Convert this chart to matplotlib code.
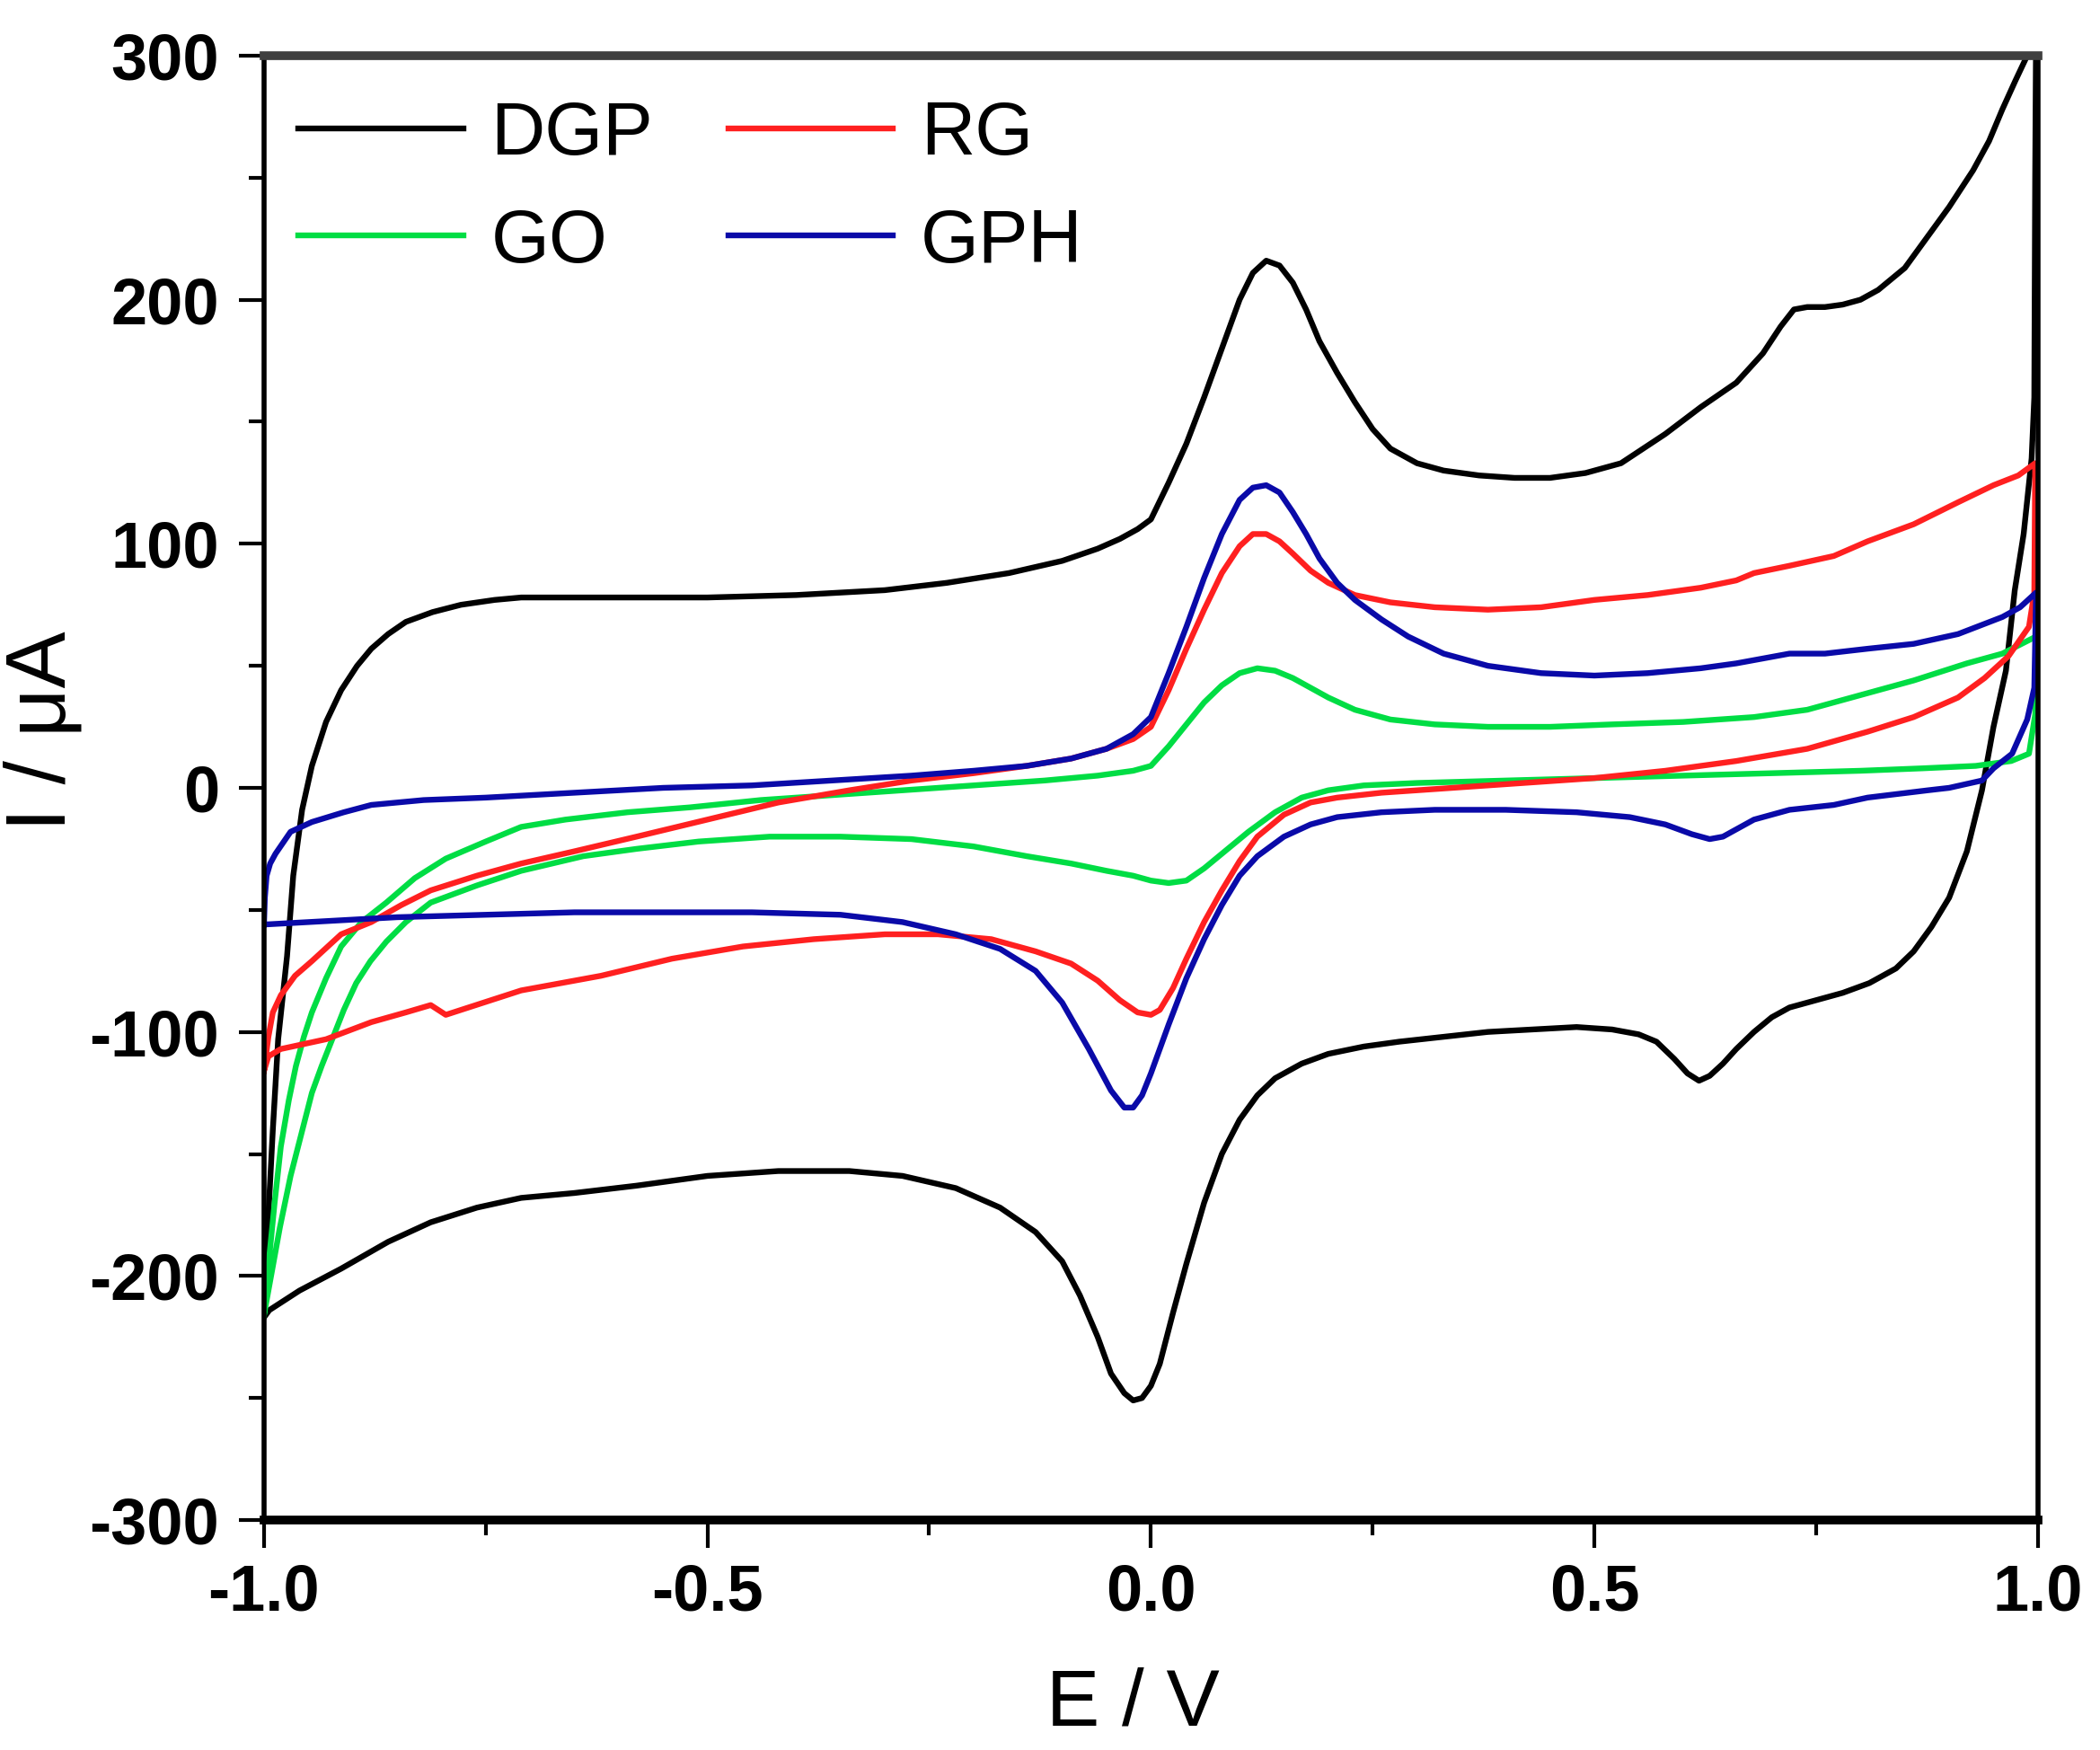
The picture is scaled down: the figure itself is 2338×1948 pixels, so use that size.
import matplotlib
matplotlib.use('Agg')
import matplotlib.pyplot as plt
from matplotlib.ticker import MultipleLocator

# ---- data (cyclic voltammograms, E in V, I in uA), forward scan then reverse scan ----
E_dgp = [-1.0, -0.995, -0.99, -0.984, -0.974, -0.967, -0.957, -0.946, -0.93, -0.913, -0.895, -0.879, -0.86,
         -0.84, -0.81, -0.778, -0.74, -0.71, -0.6, -0.5, -0.4, -0.3, -0.23, -0.16, -0.1, -0.06, -0.035, -0.015,
         0.0, 0.02, 0.04, 0.06, 0.08, 0.1, 0.115, 0.13, 0.145, 0.16, 0.175, 0.19, 0.21, 0.23, 0.25, 0.27, 0.3,
         0.33, 0.37, 0.41, 0.45, 0.49, 0.53, 0.58, 0.62, 0.66, 0.69, 0.71, 0.725, 0.74, 0.76, 0.78, 0.8, 0.82,
         0.85, 0.876, 0.9, 0.927, 0.945, 0.96, 0.975, 0.988, 0.998,
         0.997, 0.996, 0.993, 0.984, 0.974, 0.964, 0.95, 0.937, 0.92, 0.9, 0.88, 0.86, 0.84, 0.81, 0.78, 0.75,
         0.72, 0.7, 0.68, 0.66, 0.645, 0.63, 0.618, 0.605, 0.59, 0.57, 0.55, 0.52, 0.48, 0.43, 0.38, 0.33, 0.28,
         0.24, 0.2, 0.17, 0.14, 0.12, 0.1, 0.08, 0.06, 0.04, 0.025, 0.01, 0.0, -0.01, -0.02, -0.03, -0.045,
         -0.06, -0.08, -0.1, -0.13, -0.17, -0.22, -0.28, -0.34, -0.42, -0.5, -0.58, -0.65, -0.71, -0.76,
         -0.812, -0.86, -0.913, -0.96, -0.994, -1.0]
I_dgp = [-216, -175, -140, -103, -69, -36, -9, 9, 27, 40, 50, 57, 63,
         68, 72, 75, 77, 78, 78, 78, 79, 81, 84, 88, 93, 98, 102, 106,
         110, 125, 141, 160, 180, 200, 211, 216, 214, 207, 196, 183, 170, 158, 147, 139, 133,
         130, 128, 127, 127, 129, 133, 145, 156, 166, 178, 189, 196, 197, 197, 198, 200, 204,
         213, 226, 238, 253, 265, 278, 290, 300, 310,
         250, 160, 135, 104, 81, 48, 25, -1, -26, -45, -57, -67, -74, -80, -84, -87,
         -90, -94, -100, -107, -113, -118, -120, -117, -111, -104, -101, -99, -98, -99, -100, -102, -104,
         -106, -109, -113, -119, -126, -136, -150, -170, -195, -215, -236, -245, -250, -251, -248, -240,
         -225, -208, -194, -182, -172, -164, -159, -157, -157, -159, -163, -166, -168, -172,
         -178, -186, -197, -206, -214, -217]

E_rg = [-1.0, -0.995, -0.99, -0.981, -0.965, -0.946, -0.913, -0.879, -0.845, -0.812, -0.76, -0.71, -0.65,
        -0.58, -0.5, -0.42, -0.34, -0.27, -0.2, -0.14, -0.09, -0.05, -0.02, 0.0, 0.02, 0.04, 0.06, 0.08,
        0.1, 0.115, 0.13, 0.145, 0.16, 0.18, 0.2, 0.23, 0.27, 0.32, 0.38, 0.44, 0.5, 0.56, 0.62, 0.66, 0.68,
        0.72, 0.77, 0.808, 0.86, 0.91, 0.95, 0.978, 0.997,
        0.996, 0.99, 0.967, 0.94, 0.91, 0.86, 0.808, 0.74, 0.66, 0.58, 0.5, 0.42, 0.34, 0.26, 0.21, 0.18,
        0.15, 0.12, 0.1, 0.08, 0.06, 0.04, 0.025, 0.01, 0.0, -0.015, -0.035, -0.06, -0.09, -0.13, -0.18,
        -0.24, -0.3, -0.38, -0.46, -0.54, -0.62, -0.68, -0.71, -0.761, -0.795, -0.812, -0.84, -0.879,
        -0.93, -0.981, -0.995, -1.0]
I_rg = [-116, -102, -92, -85, -77, -71, -60, -55, -48, -42, -36, -31, -26,
        -20, -13, -6, -1, 3, 6, 9, 12, 16, 20, 25, 40, 57, 73, 88,
        99, 104, 104, 101, 96, 89, 84, 79, 76, 74, 73, 74, 77, 79, 82, 85, 88,
        91, 95, 101, 108, 117, 124, 128, 133,
        80, 66, 54, 45, 37, 29, 23, 16, 11, 7, 4, 2, 0, -2, -4, -6,
        -11, -20, -30, -42, -55, -70, -82, -91, -93, -92, -87, -79, -72, -67, -62,
        -60, -60, -62, -65, -70, -77, -81, -83, -89, -93, -89, -92, -96,
        -103, -107, -110, -116]

E_go = [-1.0, -0.994, -0.988, -0.981, -0.972, -0.964, -0.955, -0.946, -0.93, -0.913, -0.89, -0.862, -0.83,
        -0.795, -0.75, -0.71, -0.66, -0.59, -0.52, -0.44, -0.36, -0.28, -0.2, -0.12, -0.06, -0.02, 0.0,
        0.02, 0.04, 0.06, 0.08, 0.1, 0.12, 0.14, 0.16, 0.18, 0.2, 0.23, 0.27, 0.32, 0.38, 0.45, 0.52, 0.6,
        0.68, 0.74, 0.8, 0.86, 0.92, 0.96, 0.998,
        0.997, 0.99, 0.97, 0.93, 0.87, 0.8, 0.7, 0.6, 0.5, 0.4, 0.3, 0.24, 0.2, 0.17, 0.14, 0.11, 0.08,
        0.06, 0.04, 0.02, 0.0, -0.02, -0.05, -0.09, -0.14, -0.2, -0.27, -0.35, -0.43, -0.51, -0.58, -0.64,
        -0.71, -0.76, -0.812, -0.84, -0.862, -0.88, -0.896, -0.91, -0.923, -0.935, -0.946, -0.958, -0.97,
        -0.982, -0.991, -1.0]
I_go = [-216, -192, -170, -147, -128, -114, -102, -92, -78, -65, -55, -47, -37,
        -29, -22, -16, -13, -10, -8, -5, -3, -1, 1, 3, 5, 7, 9,
        17, 26, 35, 42, 47, 49, 48, 45, 41, 37, 32, 28, 26, 25, 25, 26, 27,
        29, 32, 38, 44, 51, 55, 62,
        30, 14, 11, 9, 8, 7, 6, 5, 4, 3, 2, 1, -1, -4, -10, -18, -27,
        -33, -38, -39, -38, -36, -34, -31, -28, -24, -21, -20, -20, -22, -25, -28,
        -34, -40, -47, -55, -63, -71, -80, -91, -103, -114, -125, -142, -159,
        -180, -198, -216]

E_gph = [-1.0, -0.999, -0.997, -0.993, -0.987, -0.97, -0.946, -0.91, -0.879, -0.82, -0.75, -0.65, -0.55,
         -0.45, -0.36, -0.27, -0.2, -0.14, -0.09, -0.05, -0.02, 0.0, 0.02, 0.04, 0.06, 0.08, 0.1, 0.115,
         0.13, 0.145, 0.16, 0.175, 0.19, 0.21, 0.23, 0.26, 0.29, 0.33, 0.38, 0.44, 0.5, 0.56, 0.62, 0.66,
         0.69, 0.72, 0.76, 0.808, 0.86, 0.91, 0.96, 0.98, 0.998,
         0.997, 0.996, 0.988, 0.971, 0.95, 0.937, 0.9, 0.876, 0.808, 0.77, 0.72, 0.7, 0.68, 0.66, 0.645,
         0.63, 0.61, 0.58, 0.54, 0.48, 0.4, 0.32, 0.26, 0.21, 0.18, 0.15, 0.12, 0.1, 0.08, 0.06, 0.04,
         0.02, 0.0, -0.01, -0.02, -0.03, -0.045, -0.07, -0.1, -0.13, -0.17, -0.22, -0.28, -0.35, -0.45,
         -0.55, -0.65, -0.75, -0.85, -0.95, -1.0]
I_gph = [-56, -45, -36, -31, -27, -18, -14, -10, -7, -5, -4, -2, 0,
         1, 3, 5, 7, 9, 12, 16, 22, 29, 47, 66, 86, 104, 118, 123,
         124, 121, 113, 104, 94, 84, 77, 69, 62, 55, 50, 47, 46, 47, 49, 51,
         53, 55, 55, 57, 59, 63, 70, 74, 80,
         60, 41, 28, 14, 8, 3, 0, -1, -4, -7, -9, -11, -13, -17, -20,
         -21, -19, -15, -12, -10, -9, -9, -10, -12, -15, -20, -28, -36, -48, -62, -78,
         -97, -117, -126, -131, -131, -124, -107, -88, -75, -66, -60, -55, -52, -51,
         -51, -51, -52, -53, -55, -56]

x_ticks = [-1.0, -0.5, 0.0, 0.5, 1.0]
y_ticks = [-300, -200, -100, 0, 100, 200, 300]

plt.rcParams['font.family'] = ['Liberation Sans', 'DejaVu Sans']
plt.rcParams['axes.unicode_minus'] = False

fig = plt.figure(figsize=(11.69, 9.74), dpi=200)
ax = fig.add_axes([0.1257, 0.1314, 0.8447, 0.8368])

lw = 2.3
l_dgp, = ax.plot(E_dgp, I_dgp, color='black', lw=lw, label='DGP')
l_go, = ax.plot(E_go, I_go, color='#00dd44', lw=lw, label='GO')
l_rg, = ax.plot(E_rg, I_rg, color='#ff2020', lw=lw, label='RG')
l_gph, = ax.plot(E_gph, I_gph, color='#0a0aa8', lw=lw, label='GPH')

ax.set_xlim(-1.0, 1.0)
ax.set_ylim(-300, 300)
ax.set_xticks(x_ticks)
ax.set_xticklabels(['%.1f' % v for v in x_ticks])
ax.set_yticks(y_ticks)
ax.xaxis.set_minor_locator(MultipleLocator(0.25))
ax.yaxis.set_minor_locator(MultipleLocator(50))

ax.tick_params(which='both', direction='out', top=False, right=False, width=1.5)
ax.tick_params(axis='x', which='major', length=11, pad=6, labelsize=26)
ax.tick_params(axis='y', which='major', length=10, pad=8, labelsize=26)
ax.tick_params(which='minor', length=6)
for lab in ax.get_xticklabels() + ax.get_yticklabels():
    lab.set_fontweight('bold')

ax.spines['top'].set_linewidth(3.5)
ax.spines['top'].set_color('#404040')
ax.spines['bottom'].set_linewidth(3.5)
ax.spines['left'].set_linewidth(2.0)
ax.spines['right'].set_linewidth(2.0)

ax.set_xlabel('E / V', fontsize=32)
ax.set_ylabel('I / μA', fontsize=34)
ax.xaxis.set_label_coords(0.49, -0.100)
ax.yaxis.set_label_coords(-0.102, 0.539)

ax.legend(handles=[l_dgp, l_go, l_rg, l_gph], ncol=2, loc='upper left',
          bbox_to_anchor=(0.0195, 0.970), frameon=False, fontsize=30,
          handlelength=2.2, handletextpad=0.37, columnspacing=1.0,
          labelspacing=0.5, borderpad=0.0, borderaxespad=0.0)

fig.savefig('out.png', dpi=200)
